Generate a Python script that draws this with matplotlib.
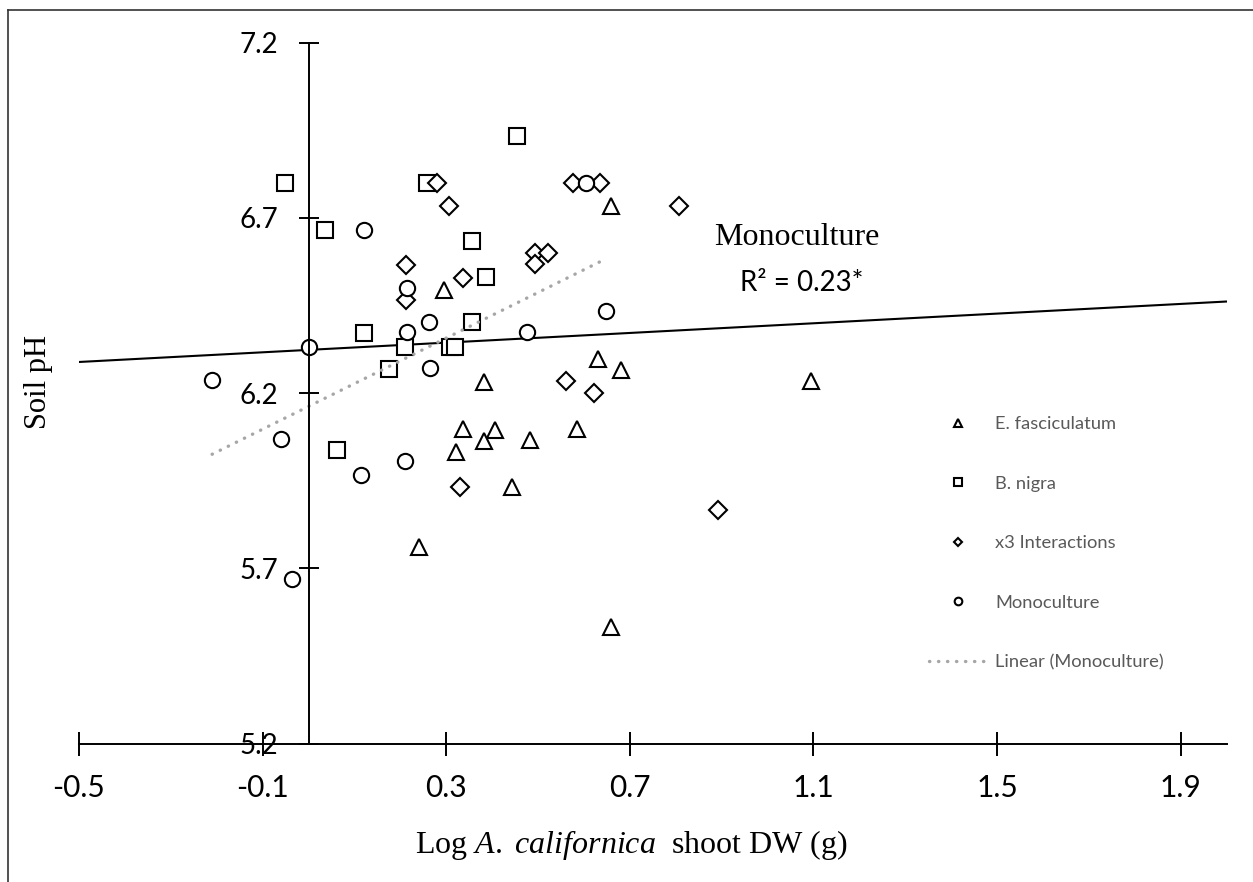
import matplotlib
matplotlib.use('agg')
import matplotlib.pyplot as plt
from matplotlib.lines import Line2D
import numpy as np

# E. fasciculatum (triangles)
efas_x = [0.296, 0.660, 0.631, 0.680, 1.094, 0.383, 0.336, 0.406, 0.321, 0.383, 0.483, 0.586, 0.444, 0.241, 0.660]
efas_y = [6.495, 6.733, 6.297, 6.266, 6.233, 6.231, 6.096, 6.095, 6.032, 6.064, 6.065, 6.097, 5.931, 5.762, 5.533]

# B. nigra (squares)
bnig_x = [-0.052, 0.037, 0.259, 0.357, 0.386, 0.357, 0.120, 0.210, 0.308, 0.319, 0.175, 0.455, 0.063]
bnig_y = [6.800, 6.666, 6.800, 6.635, 6.531, 6.403, 6.371, 6.332, 6.332, 6.332, 6.269, 6.934, 6.037]

# x3 Interactions (diamonds)
inter_x = [0.281, 0.306, 0.212, 0.336, 0.212, 0.577, 0.635, 0.808, 0.493, 0.522, 0.493, 0.562, 0.621, 0.330, 0.893]
inter_y = [6.800, 6.733, 6.566, 6.529, 6.465, 6.800, 6.800, 6.733, 6.600, 6.600, 6.567, 6.233, 6.200, 5.931, 5.866]

# Monoculture (circles)
mono_x = [0.120, 0.604, 0.214, 0.263, 0.214, 0.000, 0.264, -0.210, 0.648, 0.475, -0.061, 0.115, 0.210, -0.037]
mono_y = [6.666, 6.800, 6.499, 6.403, 6.373, 6.332, 6.270, 6.237, 6.434, 6.373, 6.068, 5.966, 6.005, 5.670]

# solid trend line drawn across the whole axis
trend_slope = 0.069
trend_intercept = 6.323

x_ticks = [-0.5, -0.1, 0.3, 0.7, 1.1, 1.5, 1.9]
x_tick_labels = ['-0.5', '-0.1', '0.3', '0.7', '1.1', '1.5', '1.9']
y_ticks = [5.2, 5.7, 6.2, 6.7, 7.2]
y_tick_labels = ['5.2', '5.7', '6.2', '6.7', '7.2']

plt.rcParams['font.family'] = ['Lato', 'DejaVu Sans']
plt.rcParams['mathtext.fontset'] = 'custom'
plt.rcParams['mathtext.rm'] = 'Liberation Serif'
plt.rcParams['mathtext.it'] = 'Liberation Serif:italic'

W, H = 1253, 882
fig = plt.figure(figsize=(W / 100, H / 100), dpi=100)
ax = fig.add_axes([79 / W, (H - 743.5) / H, 1147.5 / W, 701 / H])
ax.set_xlim(-0.5, 2.0)
ax.set_ylim(5.2, 7.2)

# outer chart frame (only left and top edges visible)
fig.add_artist(Line2D([8 / W, 8 / W], [0, 1 - 10 / H], transform=fig.transFigure, color='#333333', lw=1.2))
fig.add_artist(Line2D([8 / W, 1], [1 - 10 / H, 1 - 10 / H], transform=fig.transFigure, color='#333333', lw=1.2))

ax.spines['top'].set_visible(False)
ax.spines['right'].set_visible(False)
ax.spines['left'].set_position(('data', 0))
for s in ('left', 'bottom'):
    ax.spines[s].set_linewidth(1.4)

ax.set_xticks(x_ticks, x_tick_labels)
ax.set_yticks(y_ticks, y_tick_labels)
ax.tick_params(axis='x', direction='inout', length=17, width=1.4, pad=13.5, labelsize=21.5)
ax.tick_params(axis='y', direction='inout', length=14.4, width=1.4, pad=14.4, labelsize=20)

mk = dict(linestyle='none', markerfacecolor='white', markeredgecolor='black', markeredgewidth=1.5)
ax.plot(efas_x, efas_y, marker='^', markersize=11.5, label='E. fasciculatum', **mk)
ax.plot(bnig_x, bnig_y, marker='s', markersize=11, label='B. nigra', **mk)
ax.plot(inter_x, inter_y, marker='D', markersize=9, label='x3 Interactions', **mk)
ax.plot(mono_x, mono_y, marker='o', markersize=11, label='Monoculture', **mk)

# linear fit of the monoculture points
coef = np.polyfit(mono_x, mono_y, 1)
fx = np.array([min(mono_x), max(mono_x)])
ax.plot(fx, np.polyval(coef, fx), color='#A6A6A6', lw=2.4,
        linestyle=(0, (0.1, 2.6)), dash_capstyle='round', label='Linear (Monoculture)')

tx = np.array([-0.5, 2.0])
ax.plot(tx, trend_slope * tx + trend_intercept, color='black', lw=1.5, zorder=1)

ax.text(0.883, 6.645, 'Monoculture', family='Liberation Serif', fontsize=23, ha='left', va='center')
ax.text(0.941, 6.515, 'R² = 0.23*', fontsize=20, ha='left', va='center')

ax.set_xlabel(r'Log $\mathit{A.}$ $\mathit{californica}$  shoot DW (g)', family='Liberation Serif', fontsize=23)
ax.xaxis.set_label_coords((631 - 79) / 1147.5, -(828 - 743.5) / 701)
ax.set_ylabel('Soil pH', family='Liberation Serif', fontsize=22)
ax.yaxis.set_label_coords((53 - 79) / 1147.5, (743.5 - 382) / 701)

leg = ax.legend(loc='upper left', bbox_to_anchor=(929 / W, 1 - 416 / H), bbox_transform=fig.transFigure,
                frameon=False, fontsize=13.2, markerscale=0.5, labelspacing=2.38,
                handlelength=3.2, handletextpad=0.4, borderpad=0, borderaxespad=0)
for t in leg.get_texts():
    t.set_color('#595959')

fig.savefig('out.png', dpi=100)
